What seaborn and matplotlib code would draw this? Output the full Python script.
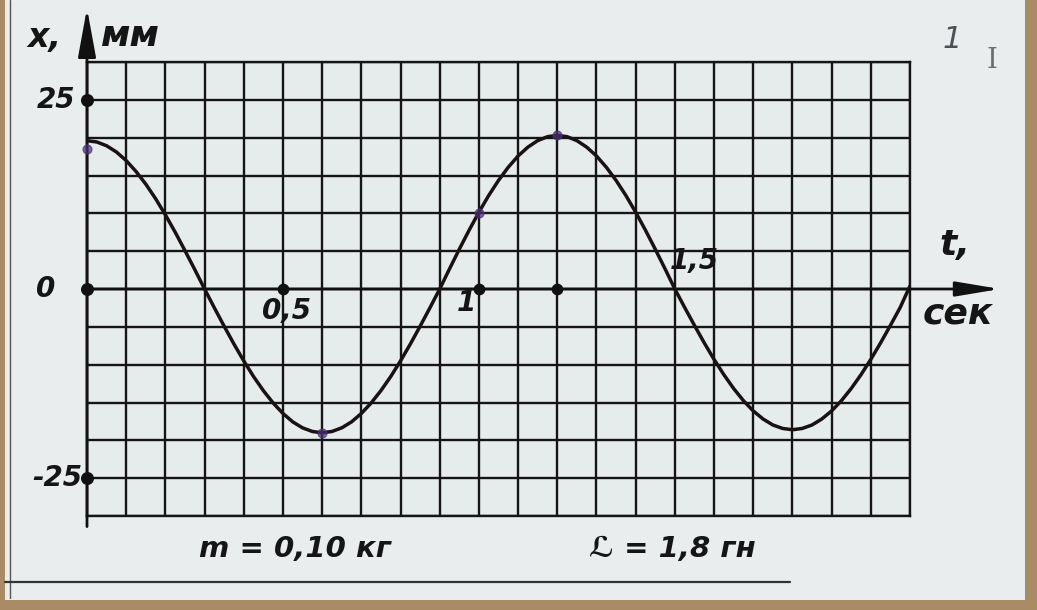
# Oscillation card: x(t)
import numpy as np
import pandas as pd
import matplotlib
matplotlib.use('Agg')
import matplotlib.pyplot as plt
import seaborn as sns
from matplotlib.patches import Rectangle
from matplotlib.lines import Line2D

# curve, every 0.025 s
t_sec = [0.000, 0.025, 0.050, 0.075, 0.100, 0.125, 0.150, 0.175, 0.200, 0.225,
         0.250, 0.275, 0.300, 0.325, 0.350, 0.375, 0.400, 0.425, 0.450, 0.475,
         0.500, 0.525, 0.550, 0.575, 0.600, 0.625, 0.650, 0.675, 0.700, 0.725,
         0.750, 0.775, 0.800, 0.825, 0.850, 0.875, 0.900, 0.925, 0.950, 0.975,
         1.000, 1.025, 1.050, 1.075, 1.100, 1.125, 1.150, 1.175, 1.200, 1.225,
         1.250, 1.275, 1.300, 1.325, 1.350, 1.375, 1.400, 1.425, 1.450, 1.475,
         1.500, 1.525, 1.550, 1.575, 1.600, 1.625, 1.650, 1.675, 1.700, 1.725,
         1.750, 1.775, 1.800, 1.825, 1.850, 1.875, 1.900, 1.925, 1.950, 1.975,
         2.000, 2.025, 2.050, 2.075, 2.100]
x_mm = [19.60, 19.43, 18.93, 18.11, 16.97, 15.54, 13.86, 11.94, 9.80, 7.51,
        5.07, 2.57, 0.00, -2.49, -4.92, -7.28, -9.50, -11.57, -13.43, -15.07,
        -16.45, -17.56, -18.35, -18.83, -19.00, -18.83, -18.35, -17.56, -16.45, -15.07,
        -13.43, -11.57, -9.50, -7.28, -4.92, -2.49, 0.00, 2.66, 5.26, 7.77,
        10.15, 12.36, 14.35, 16.10, 17.58, 18.75, 19.61, 20.13, 20.30, 20.13,
        19.61, 18.75, 17.58, 16.10, 14.35, 12.36, 10.15, 7.77, 5.26, 2.66,
        0.00, -2.44, -4.81, -7.12, -9.30, -11.32, -13.15, -14.76, -16.11, -17.18,
        -17.97, -18.43, -18.60, -18.43, -17.97, -17.18, -16.11, -14.76, -13.15, -11.32,
        -9.30, -7.12, -4.81, -2.44, 0.40]

# axis labels on the card
y_ticks = [25, 0, -25]
y_tick_labels = ['25', '0', '-25']
x_ticks = [0.5, 1.0, 1.5]
x_tick_labels = ['0,5', '1', '1,5']
axis_dots_t = [0.5, 1.0, 1.2]

# pencil/ink marks made on the curve
ink_t = [0.0, 0.6, 1.0, 1.2]
ink_x = [18.5, -19.0, 10.0, 20.3]

df = pd.DataFrame({'t': t_sec, 'x': x_mm})

W, H = 1037, 610
sns.set_style('white')
plt.rcParams['font.family'] = ['Liberation Sans Narrow', 'DejaVu Sans']

fig = plt.figure(figsize=(W / 100, H / 100), dpi=100)
fig.patch.set_facecolor('#a98b66')
fig.patches.append(Rectangle((5 / W, 10 / H), 1020 / W, 1 - 10 / H,
                             transform=fig.transFigure, facecolor='#e9eded',
                             edgecolor='none', zorder=-5))
# card edge lines
fig.lines.append(Line2D([10 / W, 10 / W], [12 / H, 1], transform=fig.transFigure,
                        color='#555', lw=1.0, zorder=-4))
fig.lines.append(Line2D([0.005, 790 / W], [1 - 582 / H, 1 - 582 / H],
                        transform=fig.transFigure, color='#333', lw=1.6, zorder=-4))

ax = fig.add_axes([87 / W, 1 - 516 / H, 823 / W, 454 / H])
ax.set_facecolor('#e6ebeb')

ax.set_xlim(0, 2.1)
ax.set_ylim(-30, 30)
ax.set_xticks(np.round(np.arange(0, 2.11, 0.1), 2))
ax.set_yticks(np.arange(-30, 31, 5))
ax.tick_params(length=0, labelbottom=False, labelleft=False)
ax.grid(True, color='#151515', lw=1.7)
for s in ax.spines.values():
    s.set_color('#151515')
    s.set_linewidth(1.7)
    s.set_visible(True)

sns.lineplot(data=df, x='t', y='x', ax=ax, color='#1a1212', lw=2.5,
             sort=False, zorder=5)
ax.set_xlabel('')
ax.set_ylabel('')

# axes with arrows
ax.annotate('', xy=(0, 37.1), xytext=(0, -31.4), annotation_clip=False,
            arrowprops=dict(arrowstyle='-|>,head_length=3.0,head_width=0.55',
                            color='#111', lw=2.0, shrinkA=0, shrinkB=0))
ax.annotate('', xy=(2.33, 0), xytext=(0, 0), annotation_clip=False,
            arrowprops=dict(arrowstyle='-|>,head_length=2.7,head_width=0.45',
                            color='#111', lw=2.0, shrinkA=0, shrinkB=0))

ax.scatter([0] * len(y_ticks), y_ticks, s=70, color='#111', zorder=6, clip_on=False)
ax.scatter(axis_dots_t, [0] * len(axis_dots_t), s=55, color='#111', zorder=6)
ax.scatter(ink_t, ink_x, s=40, color='#4b2f7a', alpha=0.7, zorder=7, clip_on=False)

lbl = dict(fontsize=20, fontweight='bold', fontstyle='italic', color='#151515',
           textcoords='offset pixels', annotation_clip=False)
y_off = [(-12, 0), (-32, 0), (-5, 0)]
for v, s, o in zip(y_ticks, y_tick_labels, y_off):
    ax.annotate(s, xy=(0, v), xytext=o, ha='right', va='center', **lbl)
x_off = [(4, -22), (-12, -14), (19, 28)]
for v, s, o in zip(x_ticks, x_tick_labels, x_off):
    ax.annotate(s, xy=(v, 0), xytext=o, ha='center', va='center', **lbl)

# axis names
txt = dict(fontweight='bold', color='#151515', fontstyle='italic')
fig.text(44 / W, 1 - 38 / H, 'х,', fontsize=24, ha='center', va='center', **txt)
fig.text(130 / W, 1 - 36 / H, 'мм', fontsize=26, ha='center', va='center', **txt)
fig.text(955 / W, 1 - 245 / H, 't,', fontsize=26, ha='center', va='center', **txt)
fig.text(958 / W, 1 - 314 / H, 'сек', fontsize=26, ha='center', va='center', **txt)

# parameters under the grid
fig.text(295 / W, 1 - 549 / H, 'm = 0,10 кг', fontsize=21, ha='center', va='center', **txt)
fig.text(672 / W, 1 - 549 / H, 'ℒ = 1,8 гн', fontsize=21, ha='center', va='center', **txt)

# handwritten marks in the corner
fig.text(952 / W, 1 - 40 / H, '1', fontsize=22, color='#4d5155', ha='center',
         va='center', fontstyle='italic')
fig.text(992 / W, 1 - 60 / H, 'I', fontsize=20, color='#6b6f72', ha='center',
         va='center', fontfamily='DejaVu Serif')

fig.savefig('out.png', dpi=100, facecolor=fig.get_facecolor())
